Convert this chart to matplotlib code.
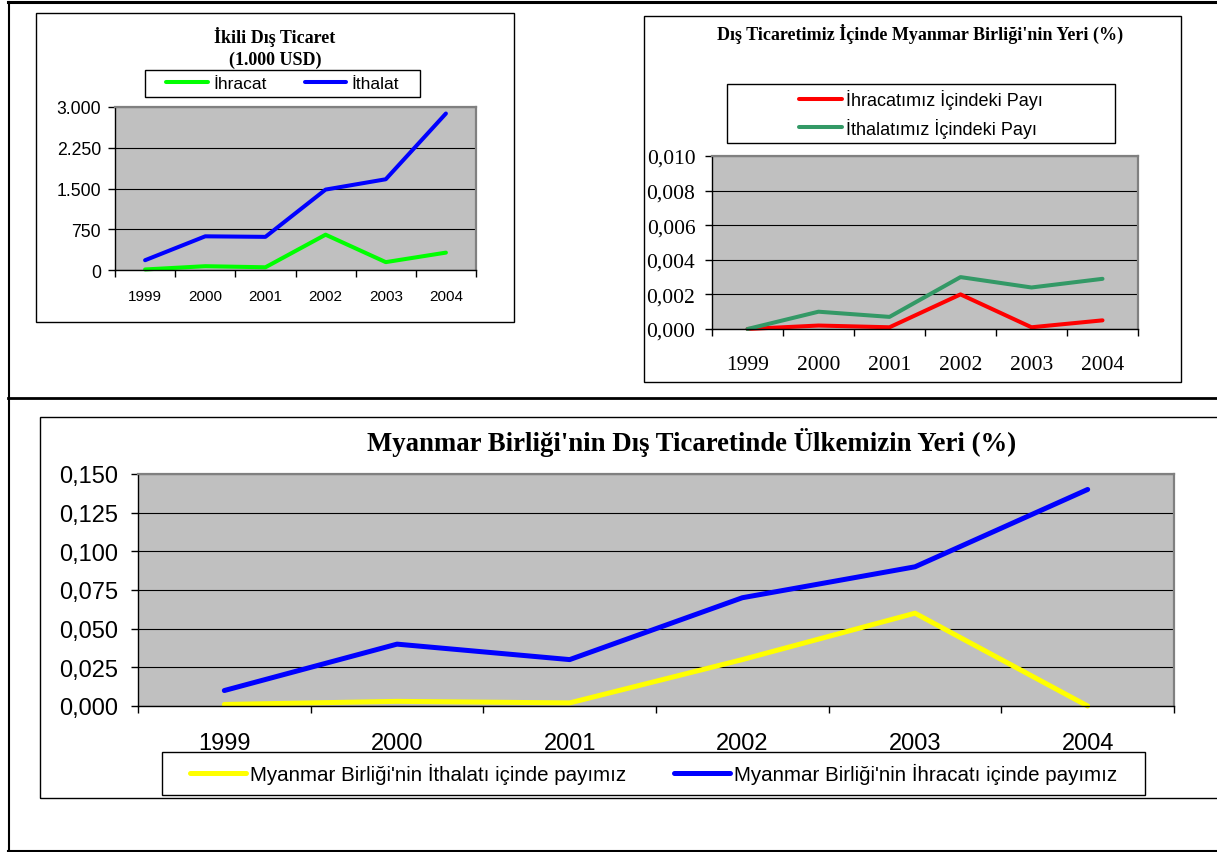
import matplotlib as mpl
mpl.use('Agg')
import matplotlib.pyplot as plt
from matplotlib.patches import Rectangle
from matplotlib.lines import Line2D
from matplotlib.ticker import FuncFormatter
import numpy as np

years = ['1999', '2000', '2001', '2002', '2003', '2004']

# İkili Dış Ticaret (1.000 USD)
ihracat = [10, 70, 50, 650, 145, 320]
ithalat = [180, 620, 610, 1480, 1670, 2880]

# Dış Ticaretimiz İçinde Myanmar Birliği'nin Yeri (%)
ihracat_payi = [0.0, 0.0002, 0.0001, 0.0020, 0.0001, 0.0005]
ithalat_payi = [0.0, 0.0010, 0.0007, 0.0030, 0.0024, 0.0029]

# Myanmar Birliği'nin Dış Ticaretinde Ülkemizin Yeri (%)
mm_ithalat_payi = [0.001, 0.003, 0.002, 0.030, 0.060, 0.0]
mm_ihracat_payi = [0.010, 0.040, 0.030, 0.070, 0.090, 0.140]

W, H = 1217, 853
SANS = 'Liberation Sans'
SERIF = 'Liberation Serif'
PLOT_BG = '#c0c0c0'

plt.rcParams['font.family'] = SANS

fig = plt.figure(figsize=(W / 100, H / 100), dpi=100)


# helpers working in pixel coords, origin at top-left
def box(x0, y0, x1, y1, lw=1.0):
    fig.add_artist(Rectangle((x0 / W, 1 - y1 / H), (x1 - x0) / W, (y1 - y0) / H,
                             transform=fig.transFigure, fill=False, lw=lw,
                             edgecolor='black'))


def line(x0, y0, x1, y1, lw):
    fig.add_artist(Line2D([x0 / W, x1 / W], [1 - y0 / H, 1 - y1 / H],
                          transform=fig.transFigure, color='black', lw=lw))


def make_axes(x0, y0, x1, y1):
    ax = fig.add_axes([x0 / W, 1 - y1 / H, (x1 - x0) / W, (y1 - y0) / H])
    ax.set_facecolor(PLOT_BG)
    return ax


def style_axes(ax, ymax, step, fmt, ysize, xsize, yfont, xfont, ypad, xpad):
    n = len(years)
    ax.set_xlim(-0.5, n - 0.5)
    ax.set_ylim(0, ymax)
    ax.set_yticks(np.arange(0, ymax + step / 2, step))
    ax.yaxis.set_major_formatter(FuncFormatter(fmt))
    # ticks sit between the categories, labels in the middle
    ax.set_xticks(np.arange(n + 1) - 0.5)
    ax.set_xticklabels([])
    ax.set_xticks(np.arange(n), minor=True)
    ax.set_xticklabels(years, minor=True)
    ax.tick_params(axis='x', which='major', length=5, width=1, direction='out')
    ax.tick_params(axis='x', which='minor', length=0, pad=xpad, labelsize=xsize)
    ax.tick_params(axis='y', length=5, width=1, pad=ypad, labelsize=ysize)
    plt.setp(ax.get_xticklabels(minor=True), family=xfont)
    plt.setp(ax.get_yticklabels(), family=yfont)
    ax.grid(axis='y', color='black', lw=0.8)
    ax.set_axisbelow(True)
    for s in ['top', 'right']:
        ax.spines[s].set_color('#808080')
        ax.spines[s].set_linewidth(1.6)
    for s in ['left', 'bottom']:
        ax.spines[s].set_color('black')
        ax.spines[s].set_linewidth(1.0)


def thousands(v, pos):
    return '{:,.0f}'.format(v).replace(',', '.')


def decimal3(v, pos):
    return '{:.3f}'.format(v).replace('.', ',')


x = np.arange(len(years))

# page frame
line(8, 3, W, 3, 2.2)
line(8.5, 3, 8.5, 852, 1.5)
line(8, 398.5, W, 398.5, 2.0)
line(8, 852, W, 852, 1.5)

# ---- top left chart
box(36, 14, 514, 323)
ax1 = make_axes(115, 108, 476, 271)
style_axes(ax1, 3000, 750, thousands, 12.7, 11, SANS, SANS, 5, 14)
l1, = ax1.plot(x, ihracat, color='#00ff00', lw=2.9, solid_capstyle='round', clip_on=False)
l2, = ax1.plot(x, ithalat, color='#0000ff', lw=2.9, solid_capstyle='round', clip_on=False)
fig.text(275 / W, 1 - 37 / H, 'İkili Dış Ticaret', family=SERIF, weight='bold',
         size=13, ha='center', va='center')
fig.text(275 / W, 1 - 60 / H, '(1.000 USD)', family=SERIF, weight='bold',
         size=13, ha='center', va='center')
box(145, 71, 420, 98)
fig.legend([l1, l2], ['İhracat', 'İthalat'], loc='center',
           bbox_to_anchor=(282.5 / W, 1 - 84.5 / H), ncol=2, frameon=False,
           prop={'family': SANS, 'size': 12.5}, handlelength=2.4,
           handletextpad=0.3, columnspacing=2.2, borderpad=0, borderaxespad=0)

# ---- top right chart
box(644, 17, 1181, 383)
ax2 = make_axes(712, 157, 1138, 330)
style_axes(ax2, 0.010, 0.002, decimal3, 15.5, 15.5, SERIF, SERIF, 7, 19)
l3, = ax2.plot(x, ihracat_payi, color='#ff0000', lw=2.9, solid_capstyle='round', clip_on=False)
l4, = ax2.plot(x, ithalat_payi, color='#339966', lw=2.9, solid_capstyle='round', clip_on=False)
fig.text(920 / W, 1 - 34 / H, "Dış Ticaretimiz İçinde Myanmar Birliği'nin Yeri (%)",
         family=SERIF, weight='bold', size=13, ha='center', va='center')
box(727, 85, 1115, 144)
fig.legend([l3, l4], ['İhracatımız İçindeki Payı', 'İthalatımız İçindeki Payı'],
           loc='center', bbox_to_anchor=(921 / W, 1 - 114.5 / H), frameon=False,
           prop={'family': SANS, 'size': 13}, handlelength=2.4,
           handletextpad=0.2, labelspacing=0.45, borderpad=0, borderaxespad=0)

# ---- bottom chart
box(39.5, 418, W + 20, 799)
ax3 = make_axes(138, 475, 1174, 707)
style_axes(ax3, 0.150, 0.025, decimal3, 17, 17, SANS, SANS, 9, 19)
l5, = ax3.plot(x, mm_ithalat_payi, color='#ffff00', lw=3.6, solid_capstyle='round', clip_on=False)
l6, = ax3.plot(x, mm_ihracat_payi, color='#0000ff', lw=3.6, solid_capstyle='round', clip_on=False)
fig.text(691.5 / W, 1 - 443 / H, "Myanmar Birliği'nin Dış Ticaretinde Ülkemizin Yeri (%)",
         family=SERIF, weight='bold', size=19.3, ha='center', va='center')
box(162, 753, 1145, 796)
fig.legend([l5, l6], ["Myanmar Birliği'nin İthalatı içinde payımız",
                      "Myanmar Birliği'nin İhracatı içinde payımız"],
           loc='center', bbox_to_anchor=(653.5 / W, 1 - 774.5 / H), ncol=2,
           frameon=False, prop={'family': SANS, 'size': 14.8}, handlelength=2.7,
           handletextpad=0.2, columnspacing=2.35, borderpad=0, borderaxespad=0)

fig.savefig('out.png', dpi=100, facecolor='white')
